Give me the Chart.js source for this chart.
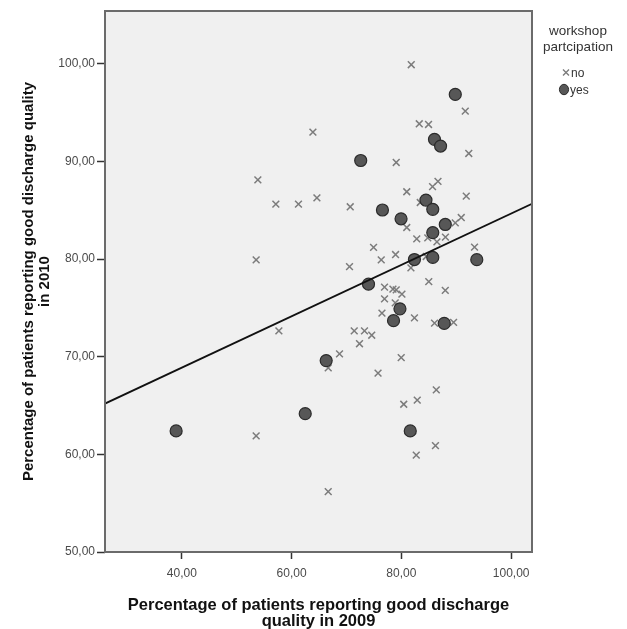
<!DOCTYPE html>
<html><head><meta charset="utf-8">
<script src="https://cdn.jsdelivr.net/npm/chart.js@4/dist/chart.umd.min.js"></script>
<style>html,body{margin:0;padding:0;background:#fff;}#wrap{width:627px;height:629px;position:relative;}</style>
</head><body><div id="wrap"><canvas id="c" width="627" height="629"></canvas></div>
<script>
// ---- data ----
const noX = [63.88,53.85,57.13,61.25,64.61,53.54,70.68,70.55,81.80,91.64,83.26,84.95,79.06,92.28,80.98,85.68,86.67,91.82,83.44,80.98,89.82,90.91,82.80,84.81,86.48,88.03,74.93,76.33,78.94,84.53,93.33,81.74,84.99,76.93,78.46,79.06,80.10,76.93,78.88,88.00,76.46,82.38,86.04,89.51,71.41,73.28,74.60,72.37,68.73,66.67,79.97,75.75,86.36,80.43,82.89,86.21,82.71,66.67,57.68,53.54];
const noY = [93.00,88.11,85.62,85.62,86.27,79.92,85.35,79.23,99.90,95.15,93.85,93.78,89.89,90.81,86.89,87.42,87.96,86.44,85.79,83.23,83.71,84.25,82.07,82.17,81.76,82.25,81.20,79.92,80.46,80.26,81.22,79.10,77.68,77.12,76.92,76.84,76.40,75.92,75.51,76.79,74.46,73.98,73.43,73.51,72.64,72.64,72.20,71.33,70.29,68.85,69.91,68.32,66.60,65.13,65.55,60.89,59.92,56.18,72.64,61.89];
const yesX = [38.96,62.48,66.30,72.59,89.82,86.03,87.14,84.48,85.72,76.55,79.94,88.00,85.72,82.38,85.72,93.74,74.01,79.74,78.57,87.81,81.62];
const yesY = [62.40,64.17,69.60,90.09,96.86,92.26,91.57,86.04,85.09,85.02,84.12,83.54,82.71,79.95,80.17,79.94,77.43,74.90,73.69,73.41,62.40];
const fitX = [26, 103.8];
const fitY = [65.2, 85.66];
const xTicks = [40, 60, 80, 100];
const yTicks = [50, 60, 70, 80, 90, 100];
const xTitle = ['Percentage of patients reporting good discharge', 'quality in 2009'];
const yTitle = ['Percentage of patients reporting good discharge quality', 'in 2010'];
const legendTitle = ['workshop', 'partcipation'];
const legendLabels = ['no', 'yes'];

const FONT = "'Liberation Sans', Arial, Helvetica, sans-serif";
const fmt = v => Number(v).toFixed(2).replace('.', ',');
const pts = (xs, ys) => xs.map((x, i) => ({x, y: ys[i]}));

const NO_COLOR = '#7c7c7c';
const YES_FILL = '#575757';
const YES_BORDER = '#2b2b2b';

const framePlugin = {
  id: 'frame',
  beforeDraw(chart) {
    const {ctx, chartArea: a} = chart;
    ctx.save();
    ctx.fillStyle = '#f0f0f0';
    ctx.fillRect(a.left, a.top, a.right - a.left, a.bottom - a.top);
    ctx.restore();
  },
  afterDraw(chart) {
    const {ctx, chartArea: a} = chart;
    ctx.save();
    ctx.strokeStyle = '#6b6b6b';
    ctx.lineWidth = 2;
    ctx.strokeRect(a.left, a.top, a.right - a.left, a.bottom - a.top);
    // legend
    const cx = a.right + 46;
    ctx.fillStyle = '#333';
    ctx.textAlign = 'center';
    ctx.textBaseline = 'middle';
    ctx.font = '13.5px ' + FONT;
    ctx.fillText(legendTitle[0], cx, 31);
    ctx.fillText(legendTitle[1], cx, 47);
    ctx.font = '12px ' + FONT;
    ctx.textAlign = 'left';
    // no
    const mx = a.right + 34, my = 72.5;
    ctx.strokeStyle = NO_COLOR; ctx.lineWidth = 1.4;
    ctx.beginPath();
    ctx.moveTo(mx - 3, my - 3); ctx.lineTo(mx + 3, my + 3);
    ctx.moveTo(mx + 3, my - 3); ctx.lineTo(mx - 3, my + 3);
    ctx.stroke();
    ctx.fillText(legendLabels[0], a.right + 39, 73.5);
    // yes
    const yx = a.right + 32, yy = 89.5;
    ctx.beginPath();
    ctx.ellipse(yx, yy, 4.6, 5.2, 0, 0, Math.PI * 2);
    ctx.fillStyle = YES_FILL; ctx.fill();
    ctx.strokeStyle = YES_BORDER; ctx.lineWidth = 1; ctx.stroke();
    ctx.fillStyle = '#333';
    ctx.fillText(legendLabels[1], a.right + 38, 90.5);
    ctx.restore();
  }
};

new Chart(document.getElementById('c'), {
  type: 'scatter',
  data: {
    datasets: [
      {
        type: 'line', label: 'fit', data: pts(fitX, fitY), order: 0,
        borderColor: '#111', borderWidth: 1.8, pointRadius: 0, fill: false, tension: 0
      },
      {
        label: 'yes', data: pts(yesX, yesY), order: 1,
        pointStyle: 'circle', pointRadius: 6, backgroundColor: YES_FILL,
        borderColor: YES_BORDER, borderWidth: 1.2
      },
      {
        label: 'no', data: pts(noX, noY), order: 2,
        pointStyle: 'crossRot', pointRadius: 4.8, borderColor: NO_COLOR,
        backgroundColor: NO_COLOR, borderWidth: 1.5
      }
    ]
  },
  options: {
    responsive: false, devicePixelRatio: 1, animation: false,
    layout: {padding: {top: 11, right: 95, bottom: 0, left: 0}},
    plugins: {legend: {display: false}, tooltip: {enabled: false}},
    scales: {
      x: {
        type: 'linear', min: 26, max: 103.8,
        afterBuildTicks: s => { s.ticks = xTicks.map(v => ({value: v})); },
        afterFit: s => { s.height = 77; },
        ticks: {callback: fmt, color: '#4a4a4a', padding: 7, font: {family: FONT, size: 12}},
        grid: {display: true, drawOnChartArea: false, drawTicks: true, tickLength: 7, tickColor: '#333', tickWidth: 1.5},
        border: {display: false},
        title: {display: true, text: xTitle, color: '#111', padding: {top: 0, bottom: 0},
          font: {family: FONT, size: 16.5, weight: 'bold', lineHeight: '16px'}}
      },
      y: {
        type: 'linear', min: 50, max: 105.4,
        afterBuildTicks: s => { s.ticks = yTicks.map(v => ({value: v})); },
        afterFit: s => { s.width = 105; },
        ticks: {callback: fmt, color: '#4a4a4a', padding: 2, font: {family: FONT, size: 12}},
        grid: {display: true, drawOnChartArea: false, drawTicks: true, tickLength: 8, tickColor: '#333', tickWidth: 1.5},
        border: {display: false},
        title: {display: true, text: yTitle, color: '#111', padding: {top: 21, bottom: 0},
          font: {family: FONT, size: 15, weight: 'bold', lineHeight: '16px'}}
      }
    }
  },
  plugins: [framePlugin]
});
</script>
</body></html>
